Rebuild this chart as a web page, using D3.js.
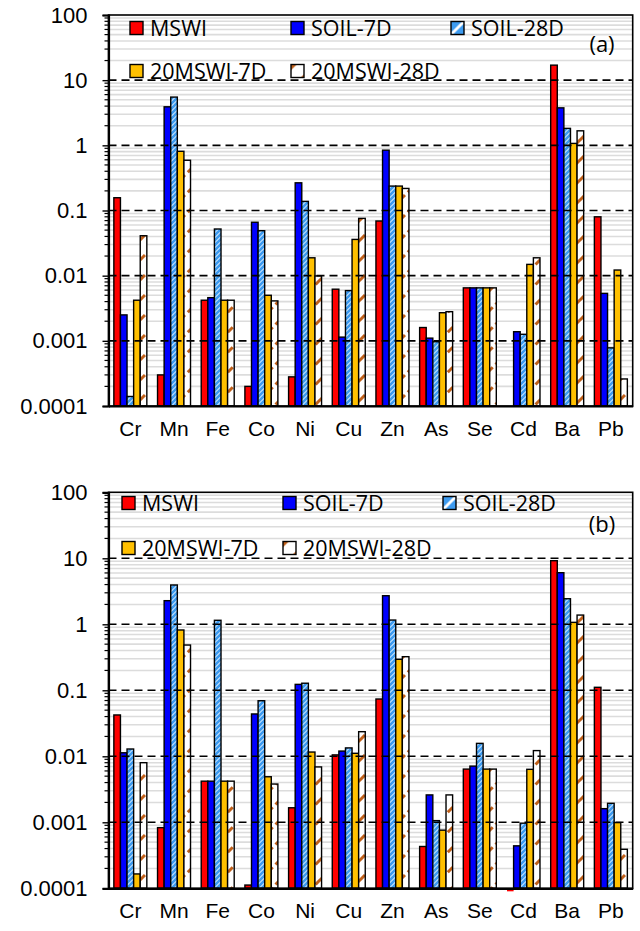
<!DOCTYPE html>
<html><head><meta charset="utf-8">
<script src="https://cdn.jsdelivr.net/npm/d3@7"></script>
<style>
body{margin:0;background:#fff;}
svg{display:block;}
</style></head>
<body>
<svg id="chart" width="640" height="931"></svg>
<script>
const categories = ["Cr","Mn","Fe","Co","Ni","Cu","Zn","As","Se","Cd","Ba","Pb"];
const seriesNames = ["MSWI","SOIL-7D","SOIL-28D","20MSWI-7D","20MSWI-28D"];
const yTickValues = [100,10,1,0.1,0.01,0.001,0.0001];
const yTickLabels = ["100","10","1","0.1","0.01","0.001","0.0001"];

// Panel (a)
const a_MSWI     = [0.157, 0.0003, 0.0042, 0.0002, 0.00028, 0.0062, 0.069, 0.0016, 0.0065, null, 17, 0.08];
const a_SOIL7D   = [0.0025, 3.9, 0.0046, 0.066, 0.266, 0.00114, 0.843, 0.0011, 0.0065, 0.00138, 3.76, 0.00535];
const a_SOIL28D  = [0.00014, 5.5, 0.052, 0.049, 0.138, 0.0059, 0.237, 0.00097, 0.0065, 0.00126, 1.82, 0.00078];
const a_MSWI7D   = [0.0042, 0.81, 0.0042, 0.005, 0.0188, 0.036, 0.237, 0.0027, 0.0065, 0.0149, 1.07, 0.0122];
const a_MSWI28D  = [0.041, 0.59, 0.0042, 0.0041, 0.0099, 0.0757, 0.218, 0.0028, 0.0065, 0.0188, 1.67, 0.00026];

// Panel (b)
const b_MSWI     = [0.0423, 0.00083, 0.0042, 0.000112, 0.00166, 0.0105, 0.0738, 0.00043, 0.0064, 0.00009, 9.2, 0.111];
const b_SOIL7D   = [0.0113, 2.28, 0.0042, 0.0438, 0.123, 0.012, 2.71, 0.0026, 0.0071, 0.00044, 6.05, 0.00161];
const b_SOIL28D  = [0.0129, 3.94, 1.15, 0.0695, 0.128, 0.0134, 1.16, 0.00106, 0.0157, 0.00097, 2.44, 0.00194];
const b_MSWI7D   = [0.000165, 0.82, 0.0042, 0.0049, 0.0116, 0.0111, 0.295, 0.00076, 0.0064, 0.00635, 1.07, 0.00099];
const b_MSWI28D  = [0.008, 0.485, 0.0042, 0.0038, 0.0069, 0.0236, 0.323, 0.0026, 0.0064, 0.0122, 1.38, 0.00039];

const svg = d3.select("#chart");
const defs = svg.append("defs");

// SOIL-28D pattern: light blue diagonal stripes on white
const p1 = defs.append("pattern").attr("id","pSoil28").attr("patternUnits","userSpaceOnUse")
  .attr("width",5).attr("height",5);
p1.append("rect").attr("width",5).attr("height",5).attr("fill","#fff");
p1.append("path").attr("d","M-1,6 L6,-1 M-1,1 L1,-1 M4,6 L6,4").attr("stroke","#3d9bf0").attr("stroke-width",2.8);

// legend version of SOIL-28D: broad blue with a white diagonal band
const p1l = defs.append("pattern").attr("id","pSoil28L").attr("patternUnits","objectBoundingBox")
  .attr("patternContentUnits","objectBoundingBox").attr("width",1).attr("height",1);
p1l.append("rect").attr("width",1).attr("height",1).attr("fill","#3d9bf0");
p1l.append("path").attr("d","M0.05,0.95 L0.95,0.05").attr("stroke","#fff").attr("stroke-width",0.22);

// 20MSWI-28D pattern: sparse brown diagonal dashes on white
const p2 = defs.append("pattern").attr("id","pM28").attr("patternUnits","userSpaceOnUse")
  .attr("width",20).attr("height",20);
p2.append("rect").attr("width",20).attr("height",20).attr("fill","#fff");
p2.append("path").attr("d","M0,20 L20,0 M-3,3 L3,-3 M17,23 L23,17").attr("stroke","#c0601a").attr("stroke-width",3).attr("stroke-dasharray","7,4");

// legend version of 20MSWI-28D
const p2l = defs.append("pattern").attr("id","pM28L").attr("patternUnits","objectBoundingBox")
  .attr("patternContentUnits","objectBoundingBox").attr("width",1).attr("height",1);
p2l.append("rect").attr("width",1).attr("height",1).attr("fill","#fff");
p2l.append("path").attr("d","M0,0 L0.45,0 L0,0.45 Z M1,0.75 L1,1 L0.75,1 Z").attr("fill","#c0601a");

const fills = ["#ff0000","#0000ff","url(#pSoil28)","#ffc000","url(#pM28)"];
const legendFills = ["#ff0000","#0000ff","url(#pSoil28L)","#ffc000","url(#pM28L)"];

function drawPanel(cfg){
  const g = svg.append("g");
  const {left,right,top,bottom} = cfg;
  const x0 = d3.scaleBand().domain(categories).range([left,right]).paddingInner(0.245).paddingOuter(0.1225);
  const x1 = d3.scaleBand().domain(seriesNames).range([0,x0.bandwidth()]).padding(0);
  const y = d3.scaleLog().domain([0.0001,100]).range([bottom,top]);

  // minor gridlines
  const minor = [];
  for(let e=-4;e<2;e++){ for(let m=2;m<=9;m++){ minor.push(m*Math.pow(10,e)); } }
  g.append("g").selectAll("line").data(minor).join("line")
    .attr("x1",left).attr("x2",right).attr("y1",d=>y(d)).attr("y2",d=>y(d))
    .attr("stroke","#dcdcdc").attr("stroke-width",1.6);

  // bars
  const y0 = y(0.0001);
  cfg.series.forEach((vals,si)=>{
    g.append("g").selectAll("rect").data(vals.map((v,i)=>({v,c:categories[i]})).filter(d=>d.v!=null)).join("rect")
      .attr("x",d=>x0(d.c)+x1(seriesNames[si]))
      .attr("width",x1.bandwidth())
      .attr("y",d=>Math.min(y(d.v),y0))
      .attr("height",d=>Math.abs(y0-y(d.v)))
      .attr("fill",fills[si])
      .attr("stroke",d=>d.v<0.0001?"none":"#000")
      .attr("stroke-width",1.4);
  });

  // major dashed gridlines (drawn over bars)
  g.append("g").selectAll("line").data(yTickValues.filter(v=>v>0.0001 && v<100)).join("line")
    .attr("x1",left).attr("x2",right).attr("y1",d=>y(d)).attr("y2",d=>y(d))
    .attr("stroke","#000").attr("stroke-width",1.6).attr("stroke-dasharray","8,5");

  // plot border
  g.append("rect").attr("x",left).attr("y",top).attr("width",right-left).attr("height",bottom-top)
    .attr("fill","none").attr("stroke","#000").attr("stroke-width",1.6);

  // y axis
  const ya = g.append("g").attr("transform",`translate(${left},0)`)
    .call(d3.axisLeft(y).tickValues(yTickValues).tickFormat((d,i)=>yTickLabels[i]).tickSize(6).tickPadding(15));
  ya.select(".domain").attr("stroke-width",2.2);
  ya.selectAll(".tick line").attr("stroke-width",1.4);
  ya.selectAll("text").attr("font-family","Liberation Sans, Arial, sans-serif").attr("font-size",22).attr("fill","#000");
  // minor ticks
  g.append("g").selectAll("line").data(minor).join("line")
    .attr("x1",left-4).attr("x2",left).attr("y1",d=>y(d)).attr("y2",d=>y(d))
    .attr("stroke","#000").attr("stroke-width",1.2);

  // x axis labels
  const xa = g.append("g").attr("transform",`translate(0,${bottom})`)
    .call(d3.axisBottom(x0).tickSize(0).tickPadding(15));
  xa.select(".domain").attr("stroke-width",2.2);
  xa.selectAll("text").attr("font-family","Liberation Sans, Arial, sans-serif").attr("font-size",21).attr("fill","#000");

  // legend
  const lg = g.append("g");
  cfg.legendPos.forEach((p,si)=>{
    lg.append("rect").attr("x",p[0]).attr("y",p[1]-6.5).attr("width",13).attr("height",13)
      .attr("fill",legendFills[si]).attr("stroke","#000").attr("stroke-width",1.4);
    lg.append("text").attr("x",p[0]+20).attr("y",p[1]+7.5)
      .attr("font-family","Open Sans, sans-serif").attr("font-size",21.5).attr("fill","#000")
      .text(seriesNames[si]);
  });
  g.append("text").attr("x",cfg.label[0]).attr("y",cfg.label[1]).attr("text-anchor","middle")
    .attr("font-family","Open Sans, sans-serif").attr("font-size",22).attr("fill","#000").text(cfg.labelText);
}

drawPanel({left:108.5,right:632.7,top:15,bottom:406,
  series:[a_MSWI,a_SOIL7D,a_SOIL28D,a_MSWI7D,a_MSWI28D],
  legendPos:[[130,28],[291,28],[451,28],[130,71],[291,71]],
  label:[602,52],labelText:"(a)"});
drawPanel({left:108.5,right:632.7,top:492.3,bottom:888.3,
  series:[b_MSWI,b_SOIL7D,b_SOIL28D,b_MSWI7D,b_MSWI28D],
  legendPos:[[122,503],[283,503],[443,503],[122,548],[283,548]],
  label:[602,532],labelText:"(b)"});
</script>
</body></html>
